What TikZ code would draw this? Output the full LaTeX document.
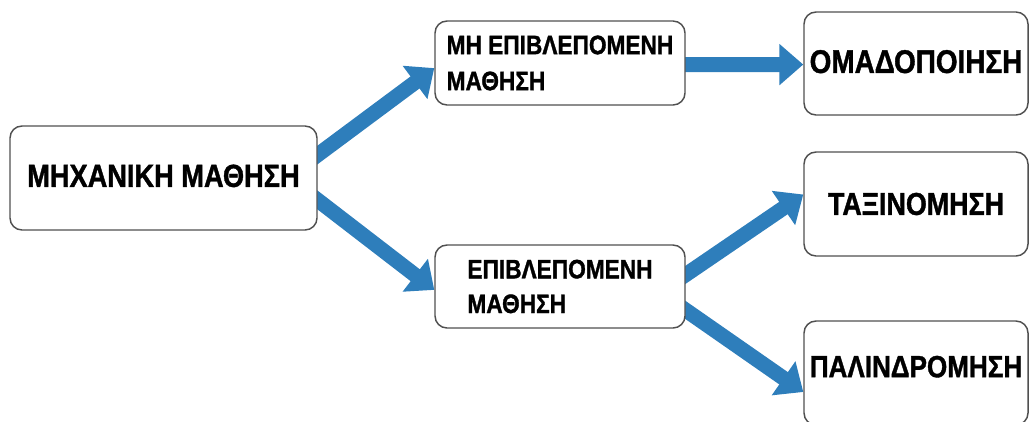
\documentclass[tikz,border=0pt]{standalone}
\usepackage{fontspec}
\newfontfamily\lblfont{Liberation Sans}[FakeStretch=0.85,FakeBold=1.2]
\usetikzlibrary{arrows.meta,calc}
\definecolor{flowblue}{RGB}{46,126,187}
\definecolor{boxline}{RGB}{80,80,80}
\pgfdeclarelayer{back}
\pgfsetlayers{back,main}
\begin{document}
\begin{tikzpicture}[x=0.75pt,y=-0.75pt,
  box/.style={draw=boxline,line width=1.1pt,rounded corners=9pt,fill=white,
    inner sep=0pt},
  flow/.style={draw=flowblue,line width=11.25pt,shorten <=-12pt,
    -{Triangle[width=30pt,length=18pt]}}]
\clip (0,0) rectangle (1030,421);
\useasboundingbox (0,0) rectangle (1030,421);

% rounded boxes with white fill
\begin{scope}[every node/.style={box}]
\node[minimum width=230.25pt,minimum height=78pt,font=\lblfont\bfseries\fontsize{24}{28}\selectfont]
  (A) at (163.5,178) {\raisebox{3.4pt}{ΜΗΧΑΝΙΚΗ ΜΑΘΗΣΗ}};
\node[minimum width=187.5pt,minimum height=63pt,align=left,font=\lblfont\bfseries\fontsize{20}{27}\selectfont]
  (B) at (560,63) {ΜΗ ΕΠΙΒΛΕΠΟΜΕΝΗ\\ΜΑΘΗΣΗ};
\node[minimum width=187.5pt,minimum height=62.25pt,align=left,font=\lblfont\bfseries\fontsize{20}{26}\selectfont]
  (C) at (560,286.5) {ΕΠΙΒΛΕΠΟΜΕΝΗ\\ΜΑΘΗΣΗ};
\node[minimum width=168pt,minimum height=77.25pt,font=\lblfont\bfseries\fontsize{24.6}{28}\selectfont]
  (D) at (916,63.5) {\raisebox{3pt}{ΟΜΑΔΟΠΟΙΗΣΗ}};
\node[minimum width=168pt,minimum height=78pt,font=\lblfont\bfseries\fontsize{23.7}{27}\selectfont]
  (E) at (916,204) {ΤΑΞΙΝΟΜΗΣΗ};
\node[minimum width=168pt,minimum height=78pt,font=\lblfont\bfseries\fontsize{23}{28}\selectfont]
  (F) at (916,373) {\raisebox{9.7pt}{ΠΑΛΙΝΔΡΟΜΗΣΗ}};
\end{scope}

% thick blue arrows, drawn behind the boxes
\begin{pgfonlayer}{back}
\draw[flow] ($(A.north east)!0.28!(A.south east)$) -- ($(B.north west)!0.56!(B.south west)$);
\draw[flow] ($(A.north east)!0.71!(A.south east)$) -- ($(C.north west)!0.54!(C.south west)$);
\draw[flow] ($(B.north east)!0.52!(B.south east)$) -- ($(D.north west)!0.51!(D.south west)$);
\draw[flow] ($(C.north east)!0.36!(C.south east)$) -- ($(E.north west)!0.41!(E.south west)$);
\draw[flow] ($(C.north east)!0.78!(C.south east)$) -- ($(F.north west)!0.68!(F.south west)$);
\end{pgfonlayer}
\end{tikzpicture}
\end{document}
